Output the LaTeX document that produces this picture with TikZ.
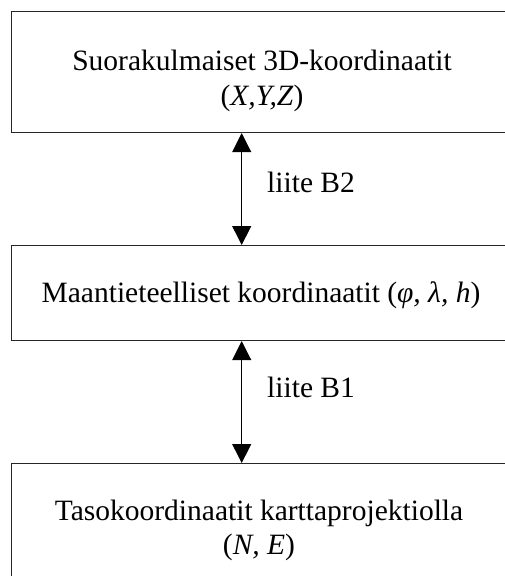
\documentclass[tikz,border=0pt]{standalone}
\usepackage{fontspec}
\setmainfont{Liberation Serif}
\usetikzlibrary{arrows.meta}
\begin{document}
\begin{tikzpicture}[x=1pt,y=-1pt,
  box/.style={draw=black!85, line width=1.1pt, anchor=north west, inner sep=0pt, minimum width=502pt},
  lbl/.style={anchor=base, inner sep=0pt, font=\fontsize{29.5}{35}\selectfont},
  conn/.style={line width=0.9pt, {Triangle[length=19pt,width=19pt]}-{Triangle[length=19pt,width=19pt]}}
]
\useasboundingbox (0,0) rectangle (505,576);
\node[box, minimum height=121pt] (b1) at (11,11) {};
\node[box, minimum height=95pt] (b2) at (11,245) {};
\node[box, minimum height=140pt] (b3) at (11,463) {};
\node[lbl] (t1a) at (262,70) {Suorakulmaiset 3D-koordinaatit};
\node[lbl] (t1b) at (262,105) {(\textit{X,Y,Z})};
\node[lbl] (t2) at (261,302) {Maantieteelliset koordinaatit (\textit{φ, λ, h})};
\node[lbl] (t3a) at (259,520) {Tasokoordinaatit karttaprojektiolla};
\node[lbl] (t3b) at (259,554) {(\textit{N, E})};
\coordinate (ax) at (241.7,0);
\draw[conn] (ax |- b1.south) -- (ax |- b2.north);
\draw[conn] (ax |- b2.south) -- (ax |- b3.north);
\node[lbl, anchor=base west] (l1) at (267,192) {liite B2};
\node[lbl, anchor=base west] (l2) at (267,397) {liite B1};
\end{tikzpicture}
\end{document}
